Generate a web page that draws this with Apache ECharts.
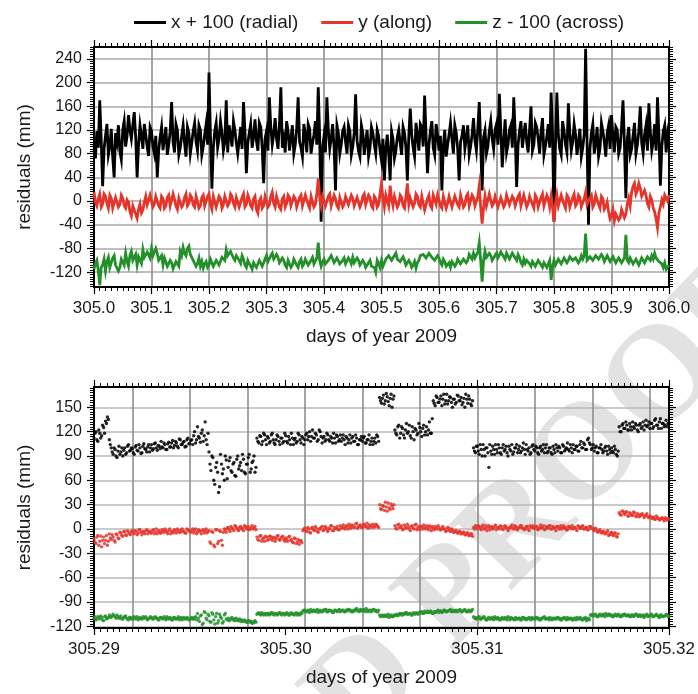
<!DOCTYPE html>
<html><head><meta charset="utf-8">
<script src="https://cdn.jsdelivr.net/npm/echarts@6/dist/echarts.min.js"></script>
<style>html,body{margin:0;padding:0;background:#fff}#c{width:698px;height:694px}</style>
</head><body><div id="c"></div>
<script>
const seriesNames = ['x + 100 (radial)', 'y (along)', 'z - 100 (across)'];
const seriesColors = ['#000000', '#e5342a', '#23902a'];

// Top panel: samples every 0.005 day from 305.000, plus a second set in between (offset half a step)
const topStart = 305.0, topStep = 0.005;
const topX = [
 95,118,170,25,110,78,122,40,100,84,
 120,92,145,105,150,40,128,88,112,76,
 118,80,40,108,86,125,95,167,82,120,
 90,128,75,115,98,132,85,120,92,130,
 217,21,118,90,135,85,170,128,92,120,
 80,125,167,47,115,90,138,85,125,30,
 118,175,95,140,88,192,105,135,85,128,
 95,175,90,130,82,122,98,135,192,-35,
 110,175,88,130,18,115,95,125,80,118,
 92,180,85,128,78,120,90,115,80,110,
 68,35,112,35,105,85,120,78,115,35,
 156,90,132,85,125,178,47,118,90,130,
 85,18,120,95,132,80,115,35,110,88,
 128,92,140,85,167,18,120,92,135,88,
 130,181,57,138,95,128,175,24,118,90,
 132,82,160,95,125,80,140,92,130,183,
 -35,183,88,135,95,165,85,130,78,122,
 90,257,-40,115,80,125,88,118,75,128,
 145,82,120,90,170,5,125,88,132,95,
 160,80,128,165,85,130,175,26,118,82,
 95];
const topX2 = [
 72,90,105,88,130,92,75,115,128,70,
 135,110,120,128,108,95,110,130,92,125,
 92,110,85,125,105,78,118,100,130,78,
 110,98,125,80,118,100,128,78,112,95,
 112,90,132,105,115,100,82,110,135,98,
 102,88,118,98,130,108,102,132,90,105,
 85,125,112,105,130,90,82,118,105,80,
 122,100,75,112,130,80,112,95,108,90,
 82,120,105,92,128,80,118,100,128,78,
 115,102,75,115,100,75,125,95,120,85,
 105,88,80,118,72,108,98,125,90,110,
 112,75,110,130,92,110,95,135,78,112,
 110,92,75,112,105,128,88,100,128,105,
 78,112,102,122,95,108,80,118,105,120,
 95,118,100,82,120,90,115,95,135,112,
 100,120,85,132,105,118,78,108,90,110,
 95,112,78,118,82,115,100,112,100,75,
 112,100,88,130,98,75,132,100,115,88,
 110,125,80,125,95,105,78,110,80,118,
 98,112,85,118,100,85,110,92,128,112];
const topY = [
 15,-8,12,-5,8,-12,5,-10,8,-6,
 5,-12,-2,-25,-10,-29,-5,-15,8,-8,
 10,-5,6,-12,4,-8,10,-6,3,-14,
 8,-6,12,-4,6,-10,5,-8,10,-5,
 12,-14,6,-8,4,-6,10,-4,8,-10,
 5,-8,12,-6,3,-12,8,-20,5,-8,
 10,-6,15,-10,5,-14,8,-4,6,-10,
 4,-8,10,-5,8,-12,5,-6,38,-8,
 6,-10,12,-6,4,-12,8,-5,10,-8,
 5,-10,8,-4,12,-8,6,-12,4,-6,
 30,-10,8,26,-8,10,-5,6,-12,30,
 5,-10,12,-6,8,-15,4,-8,10,-5,
 8,-12,6,-4,10,-8,5,-10,8,-6,
 12,-5,6,-10,26,-38,8,-6,10,-4,
 6,-12,8,-5,10,-8,4,-10,12,-6,
 8,-4,10,-12,5,-8,12,-6,4,8,
 -35,10,-5,8,-12,6,-8,12,-4,6,
 -10,15,-8,10,-5,8,-12,4,-10,-18,
 -25,-33,-20,-28,-15,-22,5,15,30,18,
 22,5,10,-10,2,-18,-45,-10,-5,5,
 10];
const topY2 = [
 -2,4,-10,12,-4,10,-12,6,-10,10,
 -8,2,-18,-8,-22,-14,-20,-2,-6,10,
 -10,8,-8,8,-12,6,-8,12,-8,5,
 -10,6,-8,10,-6,8,-12,6,-8,8,
 -6,8,-10,8,-12,8,-8,12,-4,6,
 -10,6,-10,10,-8,4,-14,0,-12,8,
 -10,8,-4,8,-10,4,-10,10,-8,8,
 -10,6,-8,10,-6,8,-10,12,6,8,
 -8,8,-8,10,-8,6,-10,8,-6,10,
 -8,6,-10,8,-6,10,-8,8,-10,12,
 5,10,-8,4,8,-10,10,-8,8,-6,
 8,-4,8,-10,10,-6,10,-12,8,10,
 -8,8,-12,8,-10,8,-6,10,-10,8,
 -8,10,-8,8,-10,-12,-8,12,-8,8,
 -10,6,-10,10,-6,8,-8,8,-8,10,
 -10,8,-6,10,-10,6,-8,10,-10,-10,
 -5,-8,10,-6,10,-10,6,-8,10,-10,
 4,-6,6,-10,10,-6,8,-14,-2,-30,
 -14,-22,-32,-14,-28,-5,-8,25,12,30,
 8,18,-4,8,-12,-30,-20,2,10,0];
const topZ = [
 -115,-100,-142,-108,-118,-95,-110,-92,-105,-112,
 -100,-88,-110,-85,-100,-108,-95,-82,-98,-85,
 -80,-95,-88,-102,-108,-98,-112,-104,-115,-100,
 -85,-78,-92,-76,-88,-98,-105,-110,-113,-102,
 -108,-100,-112,-98,-105,-92,-82,-95,-85,-100,
 -90,-105,-98,-112,-102,-115,-105,-110,-98,-108,
 -92,-100,-88,-98,-95,-105,-100,-112,-102,-108,
 -100,-112,-98,-106,-100,-110,-95,-105,-70,-110,
 -98,-108,-100,-94,-105,-98,-108,-96,-104,-100,
 -95,-106,-100,-110,-104,-112,-100,-108,-120,-105,
 -100,-108,-95,-90,-100,-88,-96,-105,-100,-110,
 -104,-108,-113,-100,-95,-88,-98,-85,-92,-100,
 -96,-108,-102,-110,-112,-100,-106,-98,-104,-95,
 -100,-92,-88,-95,-70,-136,-85,-98,-92,-100,
 -88,-95,-85,-98,-90,-96,-85,-100,-95,-108,
 -105,-98,-110,-102,-108,-100,-112,-104,-110,-133,
 -100,-106,-98,-104,-96,-100,-92,-102,-95,-100,
 -98,-55,-100,-92,-98,-90,-96,-94,-100,-95,
 -102,-96,-104,-98,-100,-57,-104,-98,-106,-100,
 -105,-98,-102,-96,-92,-88,-95,-100,-112,-115,
 -108];
const topZ2 = [
 -105,-118,-112,-98,-102,-112,-96,-108,-118,-98,
 -108,-102,-92,-100,-90,-94,-105,-95,-86,-96,
 -92,-80,-100,-92,-96,-110,-100,-114,-102,-110,
 -92,-88,-80,-90,-100,-110,-96,-102,-106,-112,
 -98,-110,-100,-108,-95,-100,-92,-85,-96,-92,
 -100,-92,-108,-100,-110,-104,-112,-100,-110,-98,
 -102,-92,-98,-90,-104,-96,-108,-100,-112,-98,
 -108,-102,-110,-98,-108,-100,-106,-96,-100,-102,
 -106,-100,-92,-104,-96,-106,-100,-106,-96,-106,
 -104,-96,-108,-100,-112,-104,-110,-112,-100,-112,
 -110,-98,-92,-100,-92,-98,-102,-94,-108,-100,
 -112,-102,-104,-92,-90,-96,-88,-95,-100,-92,
 -104,-98,-110,-104,-102,-110,-98,-106,-98,-104,
 -90,-98,-96,-86,-100,-100,-95,-88,-100,-92,
 -96,-86,-94,-88,-98,-88,-96,-90,-104,-98,
 -100,-106,-102,-110,-100,-108,-104,-112,-100,-110,
 -108,-98,-106,-96,-104,-94,-100,-96,-104,-92,
 -92,-100,-94,-100,-92,-98,-90,-102,-92,-102,
 -94,-104,-96,-104,-96,-100,-96,-106,-98,-108,
 -96,-104,-94,-100,-98,-96,-102,-106,-104,-112];

// Bottom panel: samples every 0.0001 day from 305.29, plus a second set offset by half a step
const botStart = 305.29, botStep = 0.0001;
const botX = [
 112,120,108,118,115,125,133,138,110,100,
 92,98,88,102,95,90,100,94,104,97,
 99,92,103,96,100,94,105,98,101,95,
 104,99,106,97,102,108,100,104,98,107,
 101,109,103,106,100,110,104,108,102,112,
 105,110,115,106,126,112,118,108,132,104,
 95,72,88,55,82,45,92,68,60,85,
 76,88,70,82,65,90,78,72,86,68,
 80,92,74,84,70,112,106,114,108,116,
 104,112,108,118,106,110,114,104,112,108,
 115,106,110,118,104,112,108,116,106,112,
 110,118,114,108,122,112,116,110,120,106,
 114,110,116,108,112,118,106,114,110,108,
 116,104,112,110,106,114,108,112,104,110,
 108,114,106,110,104,112,108,106,114,162,
 155,165,158,163,152,166,160,122,116,128,
 118,124,112,130,120,115,126,110,122,118,
 125,114,128,120,116,132,118,158,152,162,
 156,164,160,154,166,158,162,150,160,156,
 164,158,153,161,166,155,160,152,100,94,
 102,92,98,104,90,100,76,96,102,92,
 98,104,94,100,96,102,90,98,104,95,
 100,94,102,96,106,92,98,100,94,104,
 96,100,92,102,98,94,104,96,100,92,
 98,104,96,100,94,102,98,106,96,100,
 104,98,102,96,108,100,104,98,112,104,
 100,96,102,94,100,98,96,102,92,98,
 100,94,98,90,126,120,130,124,128,122,
 126,132,124,128,120,130,126,122,134,128,
 124,130,126,136,128,132,124,130,128,126,
 130];
const botX2 = [
 118,110,122,112,128,118,130,135,104,95,
 100,90,96,92,100,97,92,102,96,100,
 94,101,97,104,93,102,99,95,104,100,
 97,105,100,103,99,101,106,98,105,101,
 106,100,108,102,111,104,107,101,110,105,
 109,104,120,110,114,107,122,115,110,118,
 80,90,60,76,70,52,80,74,90,62,
 84,72,80,66,86,74,82,92,70,80,
 88,70,82,90,76,108,115,104,118,110,
 114,106,116,110,104,116,108,112,106,118,
 108,114,104,112,110,106,118,110,114,104,
 116,110,120,114,112,118,108,122,114,112,
 108,118,110,114,106,112,116,108,116,112,
 110,114,106,116,112,108,116,104,110,114,
 112,106,110,116,108,104,112,116,108,158,
 161,154,167,157,161,150,164,118,126,112,
 126,116,122,118,128,112,120,124,116,130,
 120,124,116,126,122,118,136,155,164,156,
 160,152,166,158,154,163,156,160,154,165,
 158,162,156,150,160,164,154,158,96,102,
 96,104,90,98,100,94,104,92,98,104,
 94,100,92,104,98,94,102,96,92,100,
 104,98,94,100,98,104,96,92,102,98,
 102,94,100,96,104,100,94,100,94,102,
 94,100,102,94,104,96,100,98,104,94,
 98,102,96,104,100,106,98,110,106,98,
 104,100,94,100,104,94,100,96,102,94,
 96,102,92,96,120,128,124,132,122,130,
 122,126,130,122,128,124,132,128,126,132,
 130,124,134,128,124,136,130,126,134,130];
const botY = [
 -12,-18,-8,-15,-22,-10,-14,-20,-6,-13,
 -10,-16,-7,-12,-5,-9,-3,-8,-4,-7,
 -2,-6,-3,-5,-1,-7,-4,-2,-6,-3,
 -5,-1,-4,-6,-2,-5,-3,0,-4,-2,
 -6,-3,-1,-5,-2,-4,0,-3,-5,-1,
 -3,-2,-5,0,-4,-2,-6,-1,-3,-5,
 -2,-18,-4,-22,-1,-15,-3,-20,0,-4,
 2,-3,1,-2,3,-1,2,0,-2,3,
 1,-1,2,0,3,-10,-14,-8,-12,-15,
 -10,-13,-9,-14,-11,-12,-8,-14,-10,-13,
 -11,-15,-9,-13,-17,-12,-16,-19,-14,-2,
 1,-3,0,-5,2,-2,1,-4,0,3,
 -1,2,-3,0,4,-2,1,3,-1,2,
 5,0,3,6,1,4,2,7,3,5,
 2,6,3,1,5,4,2,6,3,30,
 24,28,33,22,26,31,25,4,0,6,
 2,-1,5,1,3,-2,4,0,6,2,
 -1,3,5,0,2,4,-2,1,3,0,
 2,-1,3,0,-2,1,-3,-1,-4,-2,
 -5,-3,-6,-4,-7,-5,-8,-6,2,4,
 0,3,-1,5,1,-2,4,2,0,3,
 -1,2,4,0,3,1,-2,2,5,0,
 3,-1,2,4,1,0,3,-2,2,4,
 1,3,0,5,2,-1,3,1,4,0,
 2,-2,3,1,0,4,2,-1,3,1,
 0,2,-2,3,1,4,0,2,-1,3,
 1,-2,0,-4,-1,-5,-3,-6,-2,-7,
 -4,-8,-5,-10,20,17,22,18,21,16,
 19,17,20,15,18,16,19,14,17,15,
 16,13,15,12,14,11,13,12,14,11,
 12];
const botY2 = [
 -16,-10,-20,-9,-14,-18,-8,-15,-11,-7,
 -14,-6,-11,-4,-8,-3,-7,-2,-6,-3,
 -5,-2,-7,-1,-4,-3,-6,-1,-3,-5,
 -2,-6,0,-3,-5,-1,-4,-2,-6,0,
 -3,-5,-2,0,-4,-1,-3,-5,0,-2,
 -4,0,-2,-6,-1,-3,-2,-5,0,-3,
 -16,-3,-20,-1,-18,-2,-14,-4,-1,1,
 -1,3,0,4,1,-2,3,1,4,0,
 3,0,4,1,-1,-13,-9,-15,-11,-9,
 -14,-9,-12,-10,-15,-9,-13,-11,-9,-15,
 -13,-10,-14,-16,-11,-18,-13,-15,-17,0,
 -2,2,-4,1,-1,3,-3,0,2,-2,
 3,-1,1,4,-2,2,0,-1,4,1,
 2,4,0,3,5,2,6,1,4,2,
 5,3,7,4,2,6,3,5,2,25,
 29,23,27,32,24,28,30,1,5,2,
 4,0,2,6,0,3,1,5,-1,3,
 3,0,2,4,-1,2,3,-1,1,4,
 -1,1,0,-3,2,-2,0,-4,-2,-5,
 -3,-6,-4,-7,-5,-8,-6,-9,0,3,
 4,1,3,0,4,2,-1,3,1,5,
 2,0,3,-1,4,2,0,3,1,4,
 0,2,4,1,-1,3,0,4,2,1,
 3,-1,2,1,4,0,2,4,0,3,
 1,3,0,4,2,1,-1,3,1,4,
 2,0,4,1,3,0,2,-1,3,1,
 -1,1,-3,-2,-4,-3,-6,-4,-8,-5,
 -7,-5,-9,-6,18,22,19,21,16,20,
 17,21,16,19,15,18,17,16,19,14,
 15,14,12,16,13,12,14,10,12,13];
const botZ = [
 -110,-112,-108,-111,-109,-113,-107,-110,-106,-109,
 -105,-108,-106,-110,-107,-111,-108,-110,-112,-109,
 -111,-108,-110,-112,-109,-111,-110,-108,-112,-110,
 -109,-111,-108,-110,-112,-109,-111,-110,-108,-111,
 -110,-112,-109,-111,-108,-110,-112,-109,-111,-110,
 -112,-109,-111,-108,-104,-114,-106,-116,-103,-112,
 -107,-115,-105,-117,-104,-113,-108,-116,-106,-111,
 -110,-112,-109,-111,-110,-113,-111,-112,-114,-113,
 -115,-113,-114,-116,-113,-105,-103,-106,-104,-105,
 -106,-104,-105,-103,-106,-104,-105,-103,-106,-104,
 -105,-104,-106,-103,-105,-104,-106,-105,-103,-101,
 -100,-102,-101,-99,-102,-100,-101,-103,-100,-102,
 -101,-99,-102,-100,-101,-103,-100,-102,-99,-101,
 -100,-102,-101,-99,-100,-102,-101,-98,-100,-99,
 -101,-100,-98,-102,-100,-101,-99,-100,-102,-106,
 -107,-108,-106,-107,-109,-106,-108,-107,-105,-106,
 -104,-106,-105,-103,-105,-104,-106,-104,-103,-105,
 -104,-102,-104,-103,-101,-103,-102,-104,-102,-101,
 -103,-101,-102,-100,-102,-101,-99,-101,-102,-100,
 -101,-99,-102,-100,-101,-102,-100,-101,-108,-109,
 -110,-108,-111,-109,-110,-112,-109,-111,-110,-108,
 -111,-110,-112,-109,-111,-110,-108,-112,-110,-111,
 -109,-111,-110,-112,-109,-110,-111,-109,-112,-110,
 -111,-109,-110,-112,-110,-108,-111,-110,-109,-112,
 -110,-111,-109,-110,-112,-110,-111,-109,-111,-110,
 -112,-110,-109,-111,-110,-112,-111,-113,-110,-106,
 -105,-107,-106,-108,-105,-107,-106,-104,-107,-105,
 -106,-108,-105,-107,-106,-108,-107,-105,-107,-106,
 -108,-106,-107,-105,-108,-106,-107,-109,-106,-108,
 -107,-105,-108,-106,-107,-109,-106,-108,-107,-106,
 -107];
const botZ2 = [
 -108,-111,-109,-107,-112,-108,-111,-109,-108,-107,
 -107,-110,-108,-109,-111,-109,-107,-111,-109,-111,
 -109,-111,-108,-110,-111,-108,-109,-111,-110,-108,
 -111,-109,-110,-112,-109,-110,-108,-112,-110,-109,
 -112,-109,-111,-110,-112,-109,-110,-111,-109,-112,
 -110,-111,-109,-112,-110,-107,-118,-102,-110,-105,
 -114,-103,-112,-108,-116,-105,-110,-114,-104,-112,
 -113,-110,-112,-113,-111,-112,-114,-113,-112,-115,
 -113,-115,-116,-114,-115,-104,-105,-103,-106,-104,
 -104,-106,-103,-105,-104,-106,-103,-105,-104,-106,
 -103,-106,-104,-105,-106,-103,-104,-106,-104,-100,
 -102,-100,-103,-101,-100,-102,-99,-101,-102,-100,
 -99,-102,-100,-101,-103,-100,-101,-100,-102,-100,
 -102,-100,-99,-101,-102,-100,-99,-101,-102,-100,
 -99,-102,-100,-100,-102,-99,-101,-102,-100,-108,
 -106,-107,-108,-105,-107,-108,-106,-106,-107,-104,
 -106,-104,-103,-105,-104,-106,-103,-105,-104,-103,
 -102,-104,-101,-103,-103,-101,-104,-102,-103,-100,
 -101,-103,-100,-102,-101,-100,-102,-100,-101,-102,
 -100,-102,-101,-99,-102,-100,-102,-99,-110,-111,
 -109,-111,-110,-108,-112,-110,-111,-109,-112,-110,
 -109,-112,-110,-111,-109,-112,-110,-109,-111,-112,
 -111,-110,-112,-109,-111,-112,-110,-111,-109,-111,
 -109,-111,-112,-110,-109,-111,-110,-112,-111,-110,
 -111,-109,-111,-112,-110,-109,-112,-111,-110,-112,
 -110,-112,-111,-109,-112,-110,-109,-111,-112,-107,
 -107,-105,-108,-106,-107,-105,-108,-106,-105,-107,
 -108,-106,-107,-105,-108,-106,-105,-107,-106,-108,
 -106,-108,-105,-107,-106,-108,-106,-107,-105,-107,
 -106,-108,-107,-105,-108,-106,-108,-107,-105,-108];

// Tick labels
const topXTicks = [305.0,305.1,305.2,305.3,305.4,305.5,305.6,305.7,305.8,305.9,306.0];
const topYTicks = [-120,-80,-40,0,40,80,120,160,200,240];
const botXTicks = [305.29,305.30,305.31,305.32];
const botXGrid = [305.292,305.295,305.298,305.301,305.304,305.307,305.310,305.313,305.316,305.319];
const botYTicks = [-120,-90,-60,-30,0,30,60,90,120,150];
const xTitle = 'days of year 2009';
const yTitle = 'residuals (mm)';
const watermark = ['UNCORRECTED', 'PROOF'];

const FONT = '"Liberation Sans", Arial, Helvetica, sans-serif';
const TXT = '#1a1a1a';

function seq(a, b, step) { const r = []; for (let v = a; v <= b + step * 1e-6; v += step) r.push(+v.toFixed(6)); return r; }
function pairs(start, step, vals) { return vals.map((v, i) => [+(start + i * step).toFixed(6), v]); }
function interleave(start, step, a, b) {
  const out = [];
  a.forEach((v, i) => {
    out.push([+(start + i * step).toFixed(6), v]);
    if (i < b.length) out.push([+(start + (i + 0.5) * step).toFixed(6), b[i]]);
  });
  return out;
}

function baseAxis(grid, pos, min, max) {
  return { type: 'value', gridIndex: grid, position: pos, min: min, max: max,
    axisLine: { show: false, onZero: false }, axisTick: { show: false },
    axisLabel: { show: false }, splitLine: { show: false }, minorTick: { show: false } };
}
function lineAxis(grid, pos, min, max, ticks) {
  const a = baseAxis(grid, pos, min, max);
  a.axisLine = { show: true, onZero: false, lineStyle: { color: '#000', width: 2 } };
  a.axisTick = { show: true, inside: false, length: 7, customValues: ticks, lineStyle: { color: '#000', width: 1.2 } };
  return a;
}
function minorAxis(grid, pos, min, max, ticks) {
  const a = baseAxis(grid, pos, min, max);
  a.axisTick = { show: true, inside: false, length: 4, customValues: ticks, lineStyle: { color: '#000', width: 1 } };
  return a;
}

const gridLineV = { show: true, lineStyle: { color: '#8e8e8e', width: 1.6 } };
const gridLineHTop = { show: true, lineStyle: { color: '#a8a8a8', width: 1.6 } };
const gridLineHBot = { show: true, lineStyle: { color: '#b8b8b8', width: 1.6 } };

// ----- x axes -----
const xAxes = [];
let a = lineAxis(0, 'bottom', 305, 306, topXTicks);
a.axisLabel = { show: true, customValues: topXTicks, formatter: v => v.toFixed(1), fontSize: 17, fontFamily: FONT, color: TXT, margin: 13 };
a.splitLine = gridLineV;
a.name = xTitle; a.nameLocation = 'middle'; a.nameGap = 40;
a.nameTextStyle = { fontSize: 19, fontFamily: FONT, color: TXT };
xAxes.push(a);                                                       // 0
xAxes.push(minorAxis(0, 'bottom', 305, 306, seq(305, 306, 0.01)));   // 1
xAxes.push(lineAxis(0, 'top', 305, 306, topXTicks));                 // 2
xAxes.push(minorAxis(0, 'top', 305, 306, seq(305, 306, 0.01)));      // 3
a = lineAxis(1, 'bottom', 305.29, 305.32, botXTicks);
a.axisLabel = { show: true, customValues: botXTicks, formatter: v => v.toFixed(2), fontSize: 17, fontFamily: FONT, color: TXT, margin: 13 };
a.name = xTitle; a.nameLocation = 'middle'; a.nameGap = 40;
a.nameTextStyle = { fontSize: 19, fontFamily: FONT, color: TXT };
xAxes.push(a);                                                       // 4
const botMinorX = seq(305.29, 305.32, 0.01 / 30);
xAxes.push(minorAxis(1, 'bottom', 305.29, 305.32, botMinorX));       // 5
xAxes.push(lineAxis(1, 'top', 305.29, 305.32, botXTicks));           // 6
xAxes.push(minorAxis(1, 'top', 305.29, 305.32, botMinorX));          // 7
a = baseAxis(1, 'bottom', 305.29, 305.32);
a.axisTick = { show: false, customValues: botXGrid };
a.splitLine = gridLineV;
xAxes.push(a);                                                       // 8

// ----- y axes -----
const yAxes = [];
const topMinorY = seq(-144, 260, 4);
a = lineAxis(0, 'left', -145, 260, topYTicks);
a.axisLabel = { show: true, customValues: topYTicks, fontSize: 16, fontFamily: FONT, color: TXT, margin: 12 };
a.splitLine = gridLineHTop;
a.name = yTitle; a.nameLocation = 'middle'; a.nameGap = 60;
a.nameTextStyle = { fontSize: 19, fontFamily: FONT, color: TXT };
yAxes.push(a);                                                       // 0
yAxes.push(minorAxis(0, 'left', -145, 260, topMinorY));              // 1
yAxes.push(lineAxis(0, 'right', -145, 260, topYTicks));              // 2
yAxes.push(minorAxis(0, 'right', -145, 260, topMinorY));             // 3
const botMinorY = seq(-120, 174, 3);
a = lineAxis(1, 'left', -122, 175, botYTicks);
a.axisLabel = { show: true, customValues: botYTicks, fontSize: 16, fontFamily: FONT, color: TXT, margin: 12 };
a.splitLine = gridLineHBot;
a.name = yTitle; a.nameLocation = 'middle'; a.nameGap = 60;
a.nameTextStyle = { fontSize: 19, fontFamily: FONT, color: TXT };
yAxes.push(a);                                                       // 4
yAxes.push(minorAxis(1, 'left', -122, 175, botMinorY));              // 5
yAxes.push(lineAxis(1, 'right', -122, 175, botYTicks));              // 6
yAxes.push(minorAxis(1, 'right', -122, 175, botMinorY));             // 7

const topData = [[topX, topX2], [topY, topY2], [topZ, topZ2]];
const botData = [[botX, botX2], [botY, botY2], [botZ, botZ2]];
const series = [];
topData.forEach((sets, k) => series.push({
  name: seriesNames[k], type: 'line', xAxisIndex: 0, yAxisIndex: 0,
  data: interleave(topStart, topStep, sets[0], sets[1]), symbol: 'none', showSymbol: false,
  lineStyle: { color: seriesColors[k], width: 2.8, join: 'miter' }, itemStyle: { color: seriesColors[k] },
  z: 3 + k, animation: false
}));
botData.forEach((sets, k) => series.push({
  name: seriesNames[k], type: 'scatter', xAxisIndex: 4, yAxisIndex: 4,
  data: pairs(botStart, botStep, sets[0]).concat(pairs(botStart + botStep / 2, botStep, sets[1])),
  symbol: 'circle', symbolSize: 3.4,
  itemStyle: { color: seriesColors[k], opacity: 0.85 },
  z: 3 + k, animation: false
}));

// watermark
const ang = 46 * Math.PI / 180;
const wmStyle = { font: 'bold 138px "Liberation Serif", "Times New Roman", serif', fill: '#e2e2e2', textVerticalAlign: 'middle' };

const chart = echarts.init(document.getElementById('c'), null, { renderer: 'canvas' });
chart.setOption({
  animation: false,
  backgroundColor: '#ffffff',
  textStyle: { fontFamily: FONT },
  legend: {
    data: seriesNames, top: 8, left: 129, icon: 'rect', itemWidth: 32, itemHeight: 3, itemGap: 23,
    textStyle: { fontSize: 19, fontFamily: FONT, color: TXT }, selectedMode: false
  },
  grid: [
    { left: 94, top: 47, width: 575, height: 240, containLabel: false },
    { left: 94, top: 387, width: 575, height: 241, containLabel: false }
  ],
  xAxis: xAxes,
  yAxis: yAxes,
  series: series,
  graphic: [
    { type: 'text', x: 425, y: 628, rotation: ang, z: -10, silent: true,
      style: Object.assign({ text: watermark[1], textAlign: 'left' }, wmStyle) },
    { type: 'text', x: 401, y: 652, rotation: ang, z: -10, silent: true,
      style: Object.assign({ text: watermark[0], textAlign: 'right' }, wmStyle) }
  ]
});
</script></body></html>
